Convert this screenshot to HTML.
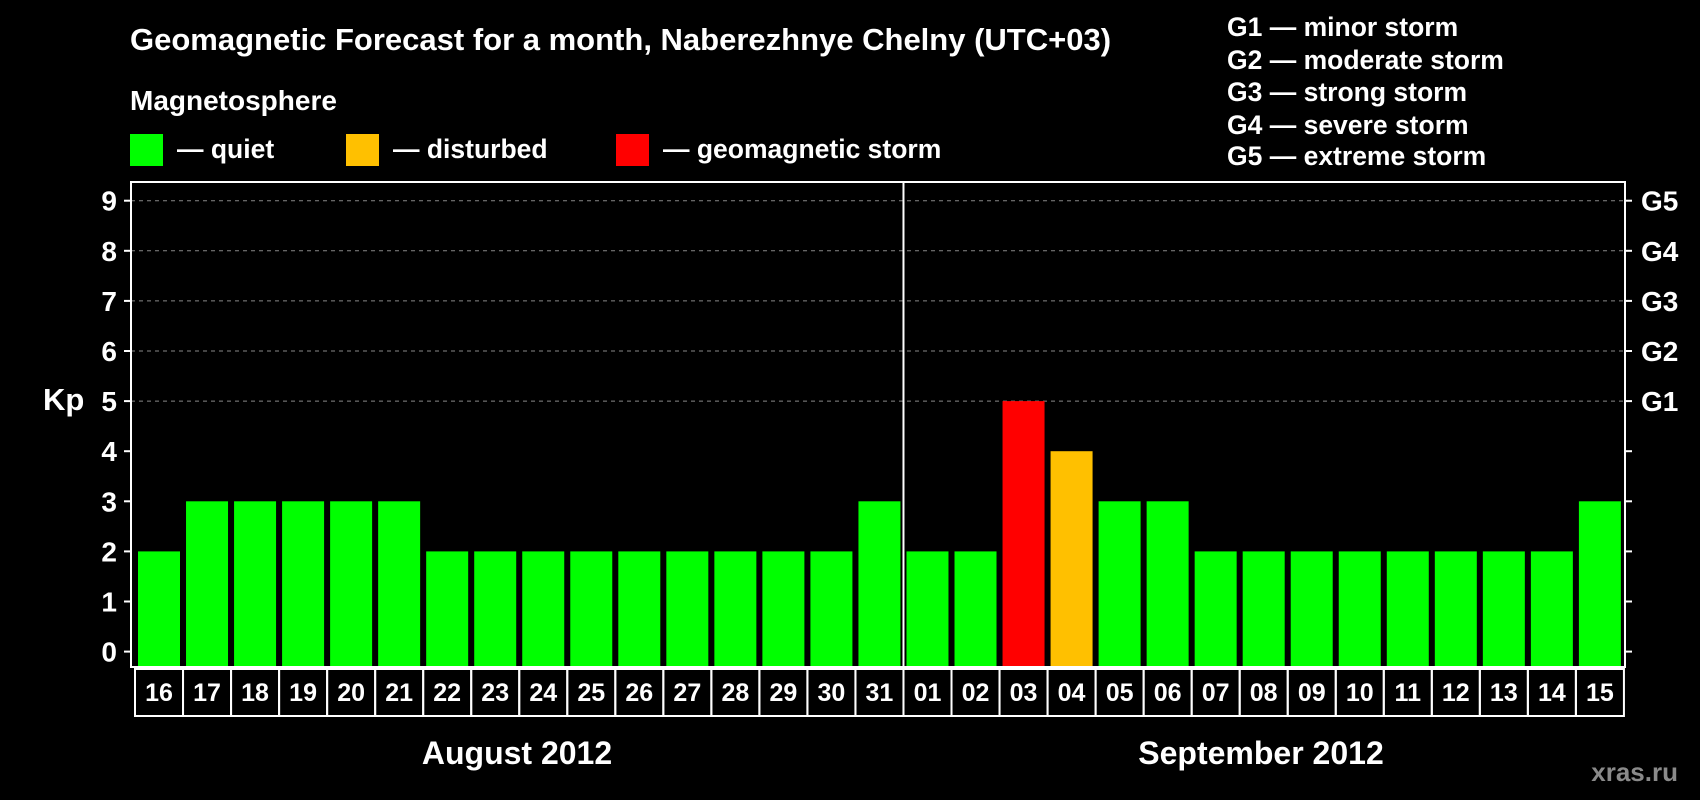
<!DOCTYPE html>
<html><head><meta charset="utf-8"><style>
body{margin:0;background:#000;}
svg{display:block;font-family:"Liberation Sans",Arial,sans-serif;font-weight:bold;}
</style></head><body>
<svg id="chart" width="1700" height="800" viewBox="0 0 1700 800">
<rect width="1700" height="800" fill="#000"/>
<text x="130" y="50" fill="#fff" font-size="31">Geomagnetic Forecast for a month, Naberezhnye Chelny (UTC+03)</text>
<text x="130" y="110" fill="#fff" font-size="28">Magnetosphere</text>
<rect x="130" y="134" width="33" height="32" fill="#00ff00"/>
<text x="177" y="158" fill="#fff" font-size="26.5">— quiet</text>
<rect x="346" y="134" width="33" height="32" fill="#ffc000"/>
<text x="393" y="158" fill="#fff" font-size="26.5">— disturbed</text>
<rect x="616" y="134" width="33" height="32" fill="#ff0000"/>
<text x="663" y="158" fill="#fff" font-size="26.5">— geomagnetic storm</text>
<g fill="#fff" font-size="26.5">
<text x="1227" y="36">G1 — minor storm</text>
<text x="1227" y="69">G2 — moderate storm</text>
<text x="1227" y="101">G3 — strong storm</text>
<text x="1227" y="134">G4 — severe storm</text>
<text x="1227" y="165">G5 — extreme storm</text>
</g>
<text x="43" y="410" fill="#fff" font-size="31">Kp</text>
<text x="517" y="764" fill="#fff" font-size="32" text-anchor="middle">August 2012</text>
<text x="1261" y="764" fill="#fff" font-size="32" text-anchor="middle">September 2012</text>
<text x="1678" y="781" fill="#8a8a8a" font-size="26" text-anchor="end">xras.ru</text>
<g id="plot"></g>
</svg>
<script>
const days=["16","17","18","19","20","21","22","23","24","25","26","27","28","29","30","31","01","02","03","04","05","06","07","08","09","10","11","12","13","14","15"];
const kp=[2,3,3,3,3,3,2,2,2,2,2,2,2,2,2,3,2,2,5,4,3,3,2,2,2,2,2,2,2,2,3];
const status=["q","q","q","q","q","q","q","q","q","q","q","q","q","q","q","q","q","q","s","d","q","q","q","q","q","q","q","q","q","q","q"];
const yTicks=[0,1,2,3,4,5,6,7,8,9];
const gLabels=["G1","G2","G3","G4","G5"];
const gLevels=[5,6,7,8,9];
const NS="http://www.w3.org/2000/svg";
const g=document.getElementById('plot');
const X0=131,X1=1625,Y0=667,YT=182;
const pitch=48.03,barW=42,firstLeft=138;
const xL=i=>firstLeft+i*pitch;
const y=v=>651.6-v*50.1;
const colors={q:"#00ff00",d:"#ffc000",s:"#ff0000"};
function mk(t,a){const e=document.createElementNS(NS,t);for(const k in a)e.setAttribute(k,a[k]);g.appendChild(e);return e;}
gLevels.forEach(v=>{const e=mk('line',{x1:X0,x2:X1,y1:y(v),y2:y(v),stroke:"#888","stroke-dasharray":"4,4","stroke-width":1});

});
kp.forEach((v,i)=>{const e=mk('rect',{x:xL(i),y:y(v),width:barW,height:Y0-y(v),fill:colors[status[i]]});

});
const fr=mk('rect',{x:X0,y:YT,width:X1-X0,height:Y0-YT,fill:"none",stroke:"#fff","stroke-width":2});


const dv=mk('line',{x1:xL(16)-3,x2:xL(16)-3,y1:YT,y2:Y0,stroke:"#fff","stroke-width":2});


yTicks.forEach(v=>{mk('line',{x1:X0-7,x2:X0,y1:y(v),y2:y(v),stroke:"#fff","stroke-width":2});
mk('line',{x1:X1,x2:X1+7,y1:y(v),y2:y(v),stroke:"#fff","stroke-width":2});
const t=mk('text',{x:117,y:y(v)+10,fill:"#fff","font-size":28,"text-anchor":"end"});t.textContent=v;

});
gLabels.forEach((s,i)=>{const t=mk('text',{x:1641,y:y(gLevels[i])+10,fill:"#fff","font-size":28});t.textContent=s;

});
days.forEach((d,i)=>{const c=mk('rect',{x:xL(i)-3,y:Y0+2,width:pitch,height:47,fill:"none",stroke:"#fff","stroke-width":2});


const t=mk('text',{x:xL(i)+barW/2,y:Y0+34,fill:"#fff","font-size":25,"text-anchor":"middle"});t.textContent=d;

});
</script>
</body></html>
